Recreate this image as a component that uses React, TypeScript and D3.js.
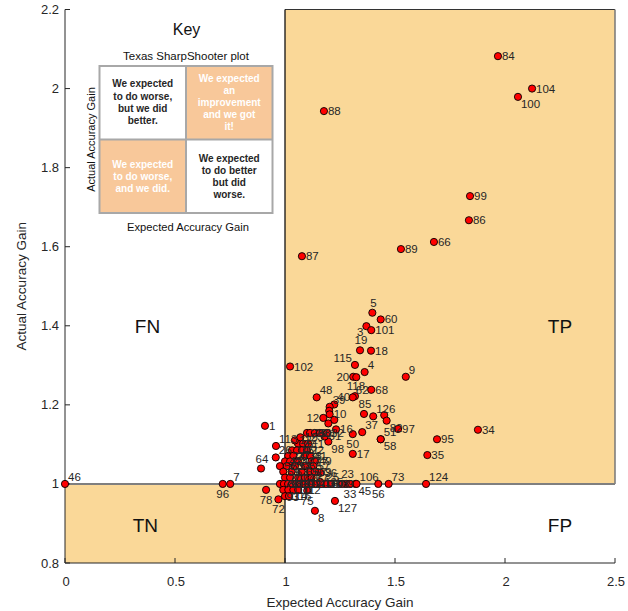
import React from "react";
import * as d3 from "d3";

// ---- data ----
const pointIds = [
  46, 84, 104, 100, 88, 99, 86, 66, 89, 87,
  5, 60, 3, 101, 19, 18, 115, 4, 20, 120, 9, 102, 68, 118, 62, 48, 40, 39, 13, 10, 12, 117, 119, 16,
  85, 126, 121, 82, 97, 51, 58, 95, 34, 35, 124, 73, 56, 23, 33, 45, 106, 25, 127, 8, 75, 72, 78,
  1, 113, 26, 64, 96, 7, 36, 37, 50, 17, 98, 61,
  28, 29, 30, 31, 32, 2, 6, 11, 14, 15, 21, 22, 24, 27, 38, 41, 42, 43, 44, 47, 49,
  52, 53, 54, 55, 57, 59, 63, 65, 67, 69, 70, 71, 74, 76, 77,
  79, 80, 81, 83, 90, 91, 92, 94, 103, 105, 107, 108, 109, 93, 110, 111, 112, 114, 116, 122, 123, 125,
];
const expectedGain = [
  0.0, 1.968, 2.123, 2.059, 1.177, 1.841, 1.836, 1.677, 1.527, 1.077,
  1.397, 1.435, 1.37, 1.392, 1.341, 1.391, 1.318, 1.362, 1.31, 1.324, 1.549, 1.023, 1.392, 1.318, 1.308, 1.144, 1.224, 1.203, 1.201, 1.203, 1.174, 1.224, 1.197, 1.232,
  1.359, 1.401, 1.451, 1.462, 1.514, 1.435, 1.435, 1.691, 1.877, 1.647, 1.641, 1.471, 1.424, 1.28, 1.295, 1.32, 1.325, 1.26, 1.227, 1.136, 1.101, 0.97, 0.914,
  0.909, 0.959, 0.958, 0.891, 0.717, 0.751, 1.161, 1.351, 1.308, 1.308, 1.197, 1.18,
  1.1, 1.114, 1.136, 1.159, 1.191, 1.059, 1.082, 1.105, 1.032, 1.055, 1.077, 1.1, 1.015, 1.038, 1.091, 1.114, 1.0, 1.023, 1.059, 1.121, 1.136,
  0.977, 1.008, 1.045, 1.091, 1.129, 0.992, 1.03, 1.076, 1.114, 1.136, 1.0, 1.023, 1.06, 1.091, 1.121,
  0.977, 0.995, 1.014, 1.032, 1.05, 1.068, 1.086, 1.105, 1.123, 1.141, 1.164, 1.186, 1.209, 0.992, 1.015, 1.038, 1.06, 1.0, 1.018, 1.045, 1.07, 1.16,
];
const actualGain = [
  1.0, 2.082, 2.0, 1.979, 1.943, 1.728, 1.667, 1.612, 1.594, 1.576,
  1.433, 1.416, 1.399, 1.389, 1.338, 1.337, 1.301, 1.283, 1.271, 1.27, 1.271, 1.297, 1.238, 1.222, 1.219, 1.219, 1.201, 1.195, 1.185, 1.176, 1.167, 1.162, 1.153, 1.138,
  1.177, 1.171, 1.174, 1.16, 1.139, 1.113, 1.113, 1.113, 1.137, 1.073, 1.0, 1.0, 1.0, 1.0, 1.0, 1.0, 1.0, 1.0, 0.957, 0.932, 0.983, 0.961, 0.985,
  1.147, 1.096, 1.067, 1.039, 1.0, 1.0, 1.028, 1.131, 1.126, 1.076, 1.107, 1.12,
  1.129, 1.129, 1.129, 1.129, 1.129, 1.102, 1.102, 1.102, 1.085, 1.085, 1.085, 1.085, 1.071, 1.071, 1.071, 1.071, 1.057, 1.057, 1.057, 1.057, 1.057,
  1.045, 1.045, 1.045, 1.045, 1.045, 1.031, 1.031, 1.031, 1.031, 1.031, 1.016, 1.016, 1.016, 1.016, 1.016,
  1.0, 1.0, 1.0, 1.0, 1.0, 1.0, 1.0, 1.0, 1.0, 1.0, 1.0, 1.0, 1.0, 0.985, 0.985, 0.985, 0.985, 0.969, 0.969, 1.11, 1.118, 1.005,
];
const xTicks = [0, 0.5, 1, 1.5, 2, 2.5];
const yTicks = [0.8, 1, 1.2, 1.4, 1.6, 1.8, 2, 2.2];
const quadrantNames = ["FN", "TP", "TN", "FP"];
const keyCells = [
  ["We expected", "to do worse,", "but we did", "better."],
  ["We expected", "an", "improvement", "and we got", "it!"],
  ["We expected", "to do worse,", "and we did."],
  ["We expected", "to do better", "but did", "worse."],
];

// label placement style (not data); "none" = label hidden behind neighbours in the reference
const labelPlace: Record<number, string> = {
  46: "ru", 100: "rd", 5: "u", 3: "ld", 19: "u", 115: "lu", 4: "ru", 20: "l", 9: "ru", 118: "u",
  62: "ru", 48: "ru", 40: "ru", 39: "ru", 12: "l", 85: "u", 126: "ru", 82: "rd", 51: "ru", 58: "rd",
  37: "ru", 50: "d", 98: "rd", 113: "ru", 26: "ru", 64: "u", 96: "d", 7: "ru", 78: "d", 72: "d",
  93: "rd", 75: "d", 8: "rd", 127: "rd", 25: "lu", 23: "u", 33: "d", 106: "ru", 45: "rd", 56: "d",
  73: "ru", 124: "ru", 120: "none", 121: "none", 13: "none", 117: "none", 119: "none",
};
const placeOffsets: Record<string, [number, number, string]> = {
  r: [4, 4, "start"],
  ru: [3, -3, "start"],
  rd: [3, 11, "start"],
  u: [1, -6, "middle"],
  d: [0, 14, "middle"],
  l: [-4, 4, "end"],
  lu: [-3, -3, "end"],
  ld: [-3, 10, "end"],
};

const W = 628;
const H = 611;
const M = { left: 65, right: 615, top: 9.5, bottom: 563 };
const FONT = "'Liberation Sans', Arial, sans-serif";
const TXT = "#262626";
const WHEAT = "#FAD898";
const PEACH = "#F8C89A";

export default function App() {
  const x = d3.scaleLinear().domain([0, 2.5]).range([M.left, M.right]);
  const y = d3.scaleLinear().domain([0.8, 2.2]).range([M.bottom, M.top]);

  const quadPos: [number, number][] = [
    [0.375, 1.4], [2.25, 1.4], [0.365, 0.895], [2.25, 0.895],
  ];

  // key inset geometry
  const kx0 = 99.5, kx1 = 272.5, ky0 = 66, ky1 = 213;
  const kmx = (kx0 + kx1) / 2, kmy = (ky0 + ky1) / 2;
  const cellCenters: [number, number, number, string, string][] = [
    [(kx0 + kmx) / 2, 87.3, 12.3, TXT, "#fff"],
    [(kmx + kx1) / 2, 81.7, 12.1, "#fff", PEACH],
    [(kx0 + kmx) / 2, 168.3, 12, "#fff", PEACH],
    [(kmx + kx1) / 2, 161.5, 12.3, TXT, "#fff"],
  ];

  const labelled = pointIds
    .map((id, i) => ({ id, i, place: labelPlace[id] || "r" }))
    .filter((d) => d.place !== "none");

  return (
    <svg
      width={W}
      height={H}
      style={{ position: "absolute", left: 0, top: 0, background: "#fff" }}
      fontFamily={FONT}
    >
      {/* shaded regions */}
      <rect x={x(1)} y={y(2.2)} width={x(2.5) - x(1)} height={y(1) - y(2.2)} fill={WHEAT} />
      <rect x={x(0)} y={y(1)} width={x(1) - x(0)} height={y(0.8) - y(1)} fill={WHEAT} />
      <line x1={x(1)} x2={x(2.5)} y1={y(2.2)} y2={y(2.2)} stroke="#333" strokeWidth={1.2} />
      <line x1={x(2.5)} x2={x(2.5)} y1={y(2.2)} y2={y(1)} stroke="#777" strokeWidth={1.5} />
      <line x1={x(0)} x2={x(2.5)} y1={y(1)} y2={y(1)} stroke="#7f7f7f" strokeWidth={2} />
      <line x1={x(1)} x2={x(1)} y1={y(2.2)} y2={y(0.8)} stroke="#111" strokeWidth={1.3} />

      {/* quadrant names */}
      {quadrantNames.map((q, i) => (
        <text key={q} x={x(quadPos[i][0])} y={y(quadPos[i][1]) + 7} fontSize={19} fill="#111" textAnchor="middle">
          {q}
        </text>
      ))}

      {/* key inset */}
      <g>
        <text x={186.5} y={35} fontSize={16} textAnchor="middle" fill="#111">Key</text>
        <text x={186} y={60} fontSize={11.5} textAnchor="middle" fill="#111">Texas SharpShooter plot</text>
        <rect x={kx0} y={ky0} width={kmx - kx0} height={kmy - ky0} fill="#fff" />
        <rect x={kmx} y={ky0} width={kx1 - kmx} height={kmy - ky0} fill={PEACH} />
        <rect x={kx0} y={kmy} width={kmx - kx0} height={ky1 - kmy} fill={PEACH} />
        <rect x={kmx} y={kmy} width={kx1 - kmx} height={ky1 - kmy} fill="#fff" />
        <rect x={kx0} y={ky0} width={kx1 - kx0} height={ky1 - ky0} fill="none" stroke="#a8a8a8" strokeWidth={2} />
        <line x1={kmx} x2={kmx} y1={ky0} y2={ky1} stroke="#a8a8a8" strokeWidth={2} />
        <line x1={kx0} x2={kx1} y1={kmy} y2={kmy} stroke="#a8a8a8" strokeWidth={2} />
        {keyCells.map((lines, i) => (
          <text key={i} x={cellCenters[i][0]} y={cellCenters[i][1]} fontSize={10} fontWeight="bold" fill={cellCenters[i][3]} textAnchor="middle">
            {lines.map((l, j) => (
              <tspan key={j} x={cellCenters[i][0]} y={cellCenters[i][1] + j * cellCenters[i][2]}>
                {l}
              </tspan>
            ))}
          </text>
        ))}
        <text transform={`translate(95,${kmy}) rotate(-90)`} fontSize={11} textAnchor="middle" fill="#111">
          Actual Accuracy Gain
        </text>
        <text x={188} y={230.5} fontSize={11.2} textAnchor="middle" fill="#111">Expected Accuracy Gain</text>
      </g>

      {/* axes */}
      <line x1={M.left} x2={M.left} y1={M.top} y2={M.bottom} stroke={TXT} strokeWidth={1} />
      <line x1={M.left} x2={M.right} y1={M.bottom} y2={M.bottom} stroke={TXT} strokeWidth={1} />
      {yTicks.map((t) => (
        <g key={"y" + t}>
          <line x1={M.left} x2={M.left + 5} y1={y(t)} y2={y(t)} stroke={TXT} />
          <text x={M.left - 6} y={y(t) + 4.5} fontSize={13} textAnchor="end" fill={TXT}>
            {d3.format("~g")(t)}
          </text>
        </g>
      ))}
      {xTicks.map((t) => (
        <g key={"x" + t}>
          <line x1={x(t)} x2={x(t)} y1={M.bottom} y2={M.bottom - 5} stroke={TXT} />
          <text x={x(t) + 1} y={M.bottom + 23} fontSize={13} textAnchor="middle" fill={TXT}>
            {d3.format("~g")(t)}
          </text>
        </g>
      ))}
      <text x={(M.left + M.right) / 2} y={607} fontSize={13.5} textAnchor="middle" fill={TXT}>
        Expected Accuracy Gain
      </text>
      <text transform={`translate(26,${(M.top + M.bottom) / 2}) rotate(-90)`} fontSize={13.5} textAnchor="middle" fill={TXT}>
        Actual Accuracy Gain
      </text>

      {/* points */}
      {pointIds.map((id, i) => (
        <circle key={"p" + id} cx={x(expectedGain[i])} cy={y(actualGain[i])} r={3.6} fill="#ff0000" stroke="#000" strokeWidth={0.9} />
      ))}
      {labelled.map(({ id, i, place }) => {
        const [dx, dy, anchor] = placeOffsets[place];
        return (
          <text key={"t" + id} x={x(expectedGain[i]) + dx} y={y(actualGain[i]) + dy} fontSize={11.5} fill={TXT} textAnchor={anchor as any}>
            {id}
          </text>
        );
      })}
    </svg>
  );
}
